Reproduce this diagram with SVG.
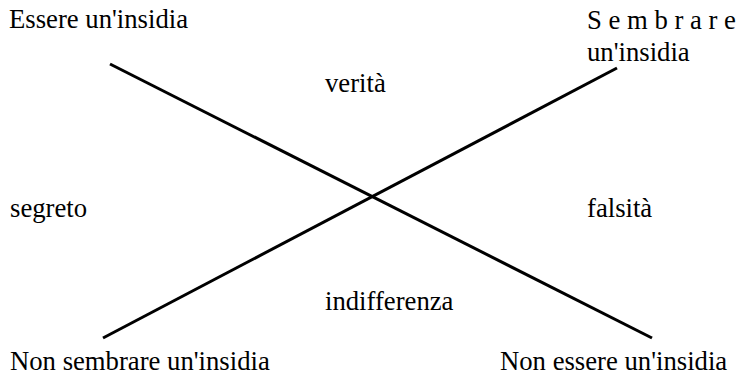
<svg xmlns="http://www.w3.org/2000/svg" width="736" height="375" viewBox="0 0 736 375">
<style>
text{font-family:'Liberation Serif','DejaVu Serif',serif;font-size:26.7px;fill:#000}
line{stroke:#000;stroke-width:3;stroke-linecap:butt}
</style>
<rect width="736" height="375" fill="#fff"/>
<g id="connectors">
<line x1="110" y1="64" x2="652" y2="338"/>
<line x1="103" y1="338" x2="617" y2="68"/>
</g>
<g font-family="Liberation Serif, serif">
<g id="n1"><text x="9" y="28">Essere un'insidia</text></g>
<g id="n2"><text x="587" y="29">S e m b r a r e</text><text x="587" y="61">un'insidia</text></g>
<g id="n3"><text x="325" y="92">verità</text></g>
<g id="n4"><text x="10" y="217">segreto</text></g>
<g id="n5"><text x="587" y="217">falsità</text></g>
<g id="n6"><text x="325" y="310">indifferenza</text></g>
<g id="n7"><text x="10" y="370">Non sembrare un'insidia</text></g>
<g id="n8"><text x="500" y="370">Non essere un'insidia</text></g>
</g>
</svg>
